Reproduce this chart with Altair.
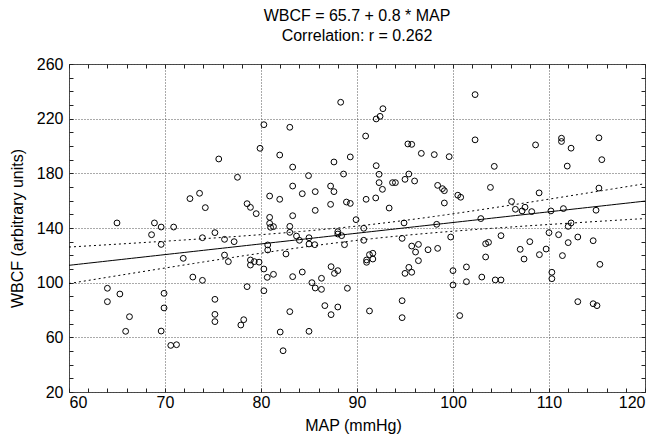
import altair as alt
import numpy as np
import pandas as pd

# ---- data ----
map_x = [
    65.0, 68.9, 69.6, 70.9, 75.6, 77.55, 72.6, 73.6, 74.2, 78.55, 78.9, 79.5,
    80.3, 79.9, 83.0, 81.95, 83.3, 88.3, 92.0, 92.4, 92.7, 90.9, 87.6, 89.3,
    84.95, 88.6, 92.0, 92.3, 92.3, 92.65, 95.3, 95.7, 96.7, 98.05, 99.6, 93.7,
    94.0, 95.0, 95.4, 96.0, 98.4, 98.9, 99.1, 99.1, 83.3, 84.3, 85.65, 87.25,
    87.6, 80.9, 81.95, 87.25, 88.9, 89.3, 90.95, 91.95, 93.35, 85.65, 83.3, 80.9,
    89.9, 83.0, 94.9, 98.3, 90.7, 80.9, 81.3, 81.0,
    102.3, 102.3, 104.3, 108.6, 111.3, 111.3, 112.3, 115.2, 115.5, 111.9, 103.9, 108.97,
    115.2, 100.5, 100.8, 106.1, 106.5, 107.2, 107.5, 108.2, 110.2, 111.5, 114.9, 102.9,
    112.3, 112.0,
    68.6, 69.6, 73.9, 75.2, 76.2, 77.2, 76.2, 76.6, 71.9, 78.9, 79.3, 78.9,
    79.8, 72.9, 73.9, 78.55, 64.0, 65.3, 64.0, 69.9, 69.9, 75.2, 75.2, 75.2,
    78.2, 77.9, 66.3, 65.9, 69.6, 70.6, 71.2,
    83.0, 83.7, 84.0, 85.0, 85.0, 85.6, 88.0, 88.0, 88.4, 88.7, 90.7, 94.7,
    80.7, 80.7, 82.6, 80.3, 80.65, 81.3, 80.3, 83.3, 84.3, 85.3, 85.65, 86.3,
    86.3, 87.3, 87.65, 88.0, 89.0, 86.65, 87.3, 88.0, 83.0, 82.0, 85.0, 82.3,
    91.0, 91.0, 91.3, 91.65, 91.65, 91.3, 94.7, 94.7, 95.7, 96.4, 96.1, 97.4,
    98.4, 96.4, 95.4, 95.0, 95.7,
    99.76, 100.0, 100.0, 101.4, 101.4, 100.7, 103.0, 104.4, 105.0, 103.4, 103.7, 105.0,
    103.4, 107.0, 107.4, 108.0, 109.0, 109.7, 110.0, 111.0, 112.0, 113.0, 111.4, 110.3,
    110.3, 114.6, 115.3, 113.0, 114.6, 115.0,
]
wbcf_y = [
    143.7, 143.7, 140.7, 140.7, 190.5, 177.1, 161.5, 165.4, 154.9, 157.8, 155.1, 150.5,
    215.6, 198.3, 213.7, 193.4, 184.6, 232.0, 219.8, 221.7, 227.3, 207.3, 188.3, 192.0,
    178.3, 179.5, 185.6, 179.3, 173.2, 168.3, 201.5, 201.2, 194.6, 193.7, 192.2, 173.2,
    173.2, 175.6, 179.5, 174.4, 171.2, 168.8, 167.3, 158.3, 170.7, 165.1, 166.6, 170.7,
    166.6, 163.4, 161.0, 157.3, 159.0, 158.0, 161.0, 162.0, 154.6, 152.9, 149.0, 147.8,
    146.1, 141.2, 143.7, 142.7, 139.8, 143.4, 141.0, 140.5,
    237.6, 204.5, 185.1, 200.8, 205.7, 203.3, 198.4, 206.0, 190.0, 185.3, 169.7, 165.7,
    169.2, 164.0, 162.5, 159.4, 153.7, 152.5, 155.2, 152.0, 152.5, 154.2, 153.0, 146.9,
    143.7, 141.2,
    135.1, 128.0, 132.9, 136.6, 131.7, 130.0, 120.2, 115.4, 117.8, 116.6, 115.4, 112.9,
    115.0, 104.1, 101.7, 97.1, 95.9, 91.7, 86.1, 92.2, 81.5, 87.8, 76.8, 71.5,
    72.9, 69.0, 75.1, 64.4, 64.6, 54.1, 54.6,
    136.8, 134.1, 131.0, 132.9, 128.3, 127.8, 137.3, 135.6, 134.4, 127.8, 131.0, 132.4,
    127.6, 123.9, 121.0, 110.0, 103.9, 106.1, 94.1, 104.4, 107.8, 100.0, 96.1, 103.2,
    95.1, 111.7, 106.8, 108.8, 95.9, 83.2, 76.6, 82.2, 78.8, 63.9, 64.4, 50.2,
    114.9, 116.6, 120.5, 121.5, 117.3, 79.3, 86.8, 74.4, 126.8, 128.0, 122.4, 124.1,
    125.1, 116.1, 111.2, 106.8, 107.6,
    133.4, 108.8, 98.3, 111.5, 100.7, 75.9, 104.1, 102.0, 102.0, 128.5, 129.5, 134.4,
    118.8, 124.4, 117.3, 130.0, 120.5, 124.6, 136.6, 135.1, 129.3, 133.4, 119.8, 107.6,
    102.9, 130.7, 113.4, 86.1, 84.6, 83.2,
]
title_lines = ["WBCF = 65.7 + 0.8 * MAP", "Correlation: r = 0.262"]
x_title = "MAP (mmHg)"
y_title = "WBCF (arbitrary units)"
x_ticks = [60, 70, 80, 90, 100, 110, 120]
y_ticks = [20, 60, 100, 140, 180, 220, 260]
x_minor = list(range(60, 121, 2))
y_minor = list(range(20, 261, 10))

df = pd.DataFrame({"MAP": map_x, "WBCF": wbcf_y})

# least-squares fit and 95% confidence band computed from the points
xa = np.array(map_x)
ya = np.array(wbcf_y)
n = len(xa)
slope, intercept = np.polyfit(xa, ya, 1)
resid = ya - (intercept + slope * xa)
s = np.sqrt(np.sum(resid ** 2) / (n - 2))
xm = xa.mean()
sxx = np.sum((xa - xm) ** 2)
grid = np.linspace(60, 120, 121)
yhat = intercept + slope * grid
half = 1.972 * s * np.sqrt(1.0 / n + (grid - xm) ** 2 / sxx)
fit = pd.DataFrame({"MAP": grid, "fit": yhat, "lo": yhat - half, "hi": yhat + half})

FONT = "Liberation Sans"
xscale = alt.Scale(domain=[60, 120], nice=False, zero=False)
yscale = alt.Scale(domain=[20, 260], nice=False, zero=False)

main_x_axis = alt.Axis(
    values=x_ticks, title=x_title, grid=True, gridDash=[1, 2], gridColor="#555",
    ticks=False, tickSize=0, domain=False, labelFontSize=16, labelFont=FONT,
    labelColor="black", labelPadding=2, titleFontSize=16, titleFont=FONT,
    titleFontWeight="normal", titleColor="black", titleX=284, titleY=33,
    titleBaseline="middle",
)
main_y_axis = alt.Axis(
    values=y_ticks, title=y_title, grid=True, gridDash=[1, 2], gridColor="#555",
    ticks=False, tickSize=0, domain=False, labelFontSize=16, labelFont=FONT,
    labelColor="black", labelPadding=6, titleFontSize=16, titleFont=FONT,
    titleFontWeight="normal", titleColor="black", titleX=-52, titleY=164,
    titleBaseline="middle",
)


def tick_axis(orient, values):
    return alt.Axis(
        orient=orient, offset=-4, tickSize=4, values=values, labels=False,
        domain=False, grid=False, title=None, tickColor="#222",
    )


points = alt.Chart(df).mark_point(
    shape="circle", filled=False, color="black", size=34, strokeWidth=1, opacity=1
).encode(
    x=alt.X("MAP:Q", scale=xscale, axis=main_x_axis),
    y=alt.Y("WBCF:Q", scale=yscale, axis=main_y_axis),
)

fit_line = alt.Chart(fit).mark_line(color="black", strokeWidth=1).encode(
    x=alt.X("MAP:Q", scale=xscale, axis=tick_axis("bottom", x_minor)),
    y=alt.Y("fit:Q", scale=yscale, axis=tick_axis("left", y_minor)),
)

upper = alt.Chart(fit).mark_line(color="black", strokeWidth=1, strokeDash=[2, 3]).encode(
    x=alt.X("MAP:Q", scale=xscale, axis=tick_axis("top", x_minor)),
    y=alt.Y("hi:Q", scale=yscale, axis=tick_axis("right", y_minor)),
)

lower = alt.Chart(fit).mark_line(color="black", strokeWidth=1, strokeDash=[2, 3]).encode(
    x=alt.X("MAP:Q", scale=xscale, axis=None),
    y=alt.Y("lo:Q", scale=yscale, axis=None),
)

chart = alt.layer(points, fit_line, upper, lower).resolve_axis(
    x="independent", y="independent"
).properties(
    width=576,
    height=328,
    autosize=alt.AutoSizeParams(type="none"),
    padding={"left": 61, "top": 56, "right": 6, "bottom": 47},
    title=alt.TitleParams(
        text=title_lines, fontSize=16, font=FONT, fontWeight="normal",
        color="black", anchor="middle", offset=-1, lineHeight=20,
        baseline="alphabetic",
    ),
).configure_view(stroke="#444", strokeWidth=1)

chart.save("out.html", embed_options={"renderer": "svg", "actions": False})
